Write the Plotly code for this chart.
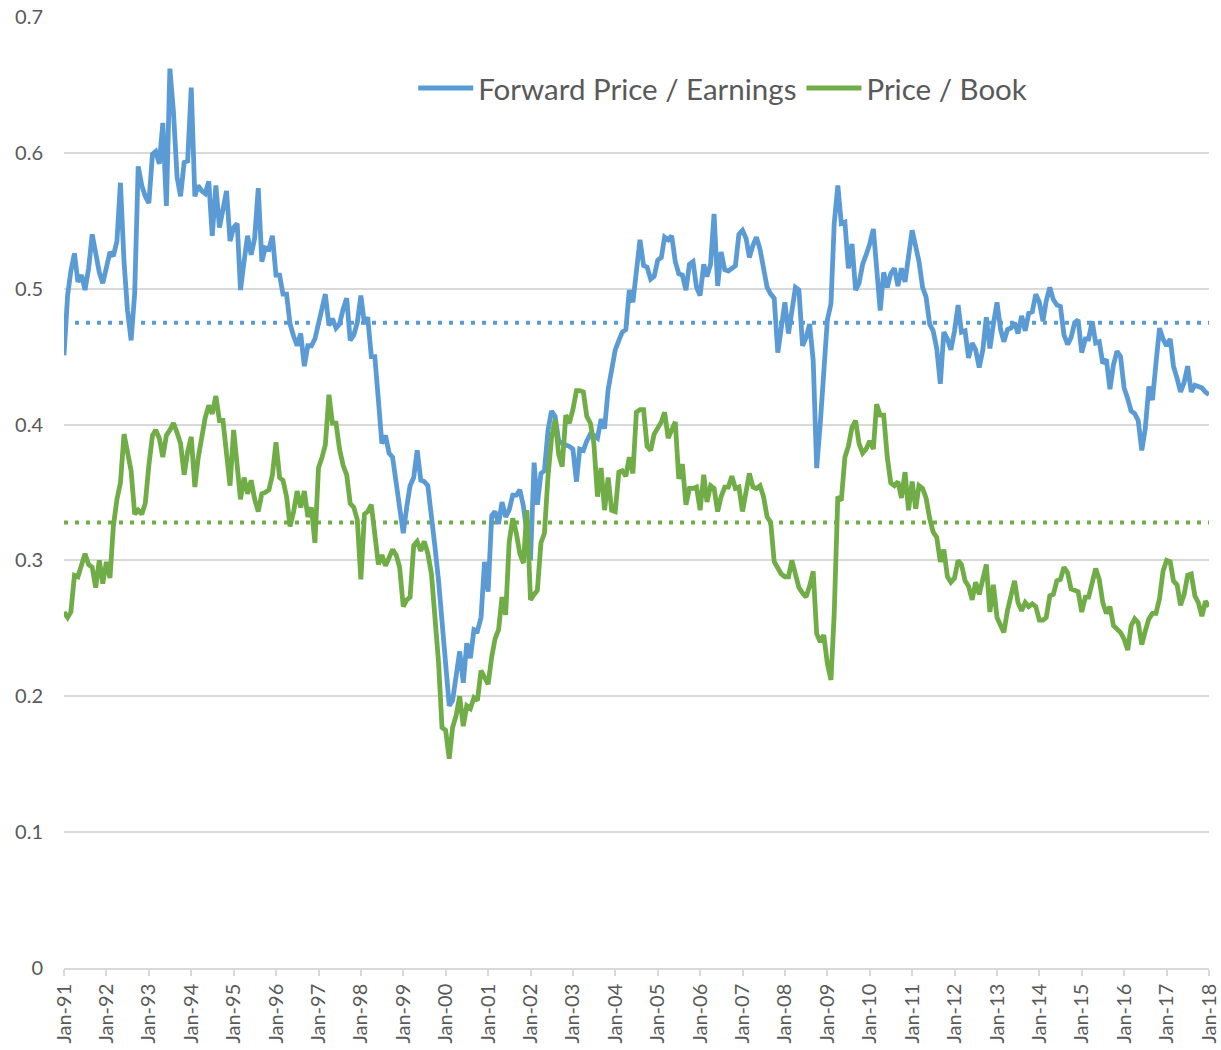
import pandas as pd
import plotly.graph_objects as go

# Monthly observations, Jan-1991 .. Jan-2018
start_month = "1991-01-01"
end_month = "2018-01-01"

forward_pe = [
    # 1991
    0.451, 0.495, 0.513, 0.526, 0.505, 0.510, 0.499, 0.515, 0.540, 0.525, 0.512, 0.504,
    # 1992
    0.517, 0.527, 0.524, 0.535, 0.578, 0.520, 0.484, 0.462, 0.497, 0.590, 0.576, 0.568,
    # 1993
    0.563, 0.599, 0.601, 0.592, 0.622, 0.561, 0.662, 0.630, 0.582, 0.568, 0.593, 0.594,
    # 1994
    0.648, 0.568, 0.576, 0.572, 0.570, 0.579, 0.539, 0.576, 0.545, 0.560, 0.572, 0.535,
    # 1995
    0.545, 0.548, 0.499, 0.520, 0.539, 0.525, 0.537, 0.574, 0.520, 0.530, 0.529, 0.539,
    # 1996
    0.510, 0.510, 0.496, 0.496, 0.474, 0.465, 0.458, 0.467, 0.443, 0.458, 0.458, 0.463,
    # 1997
    0.475, 0.488, 0.496, 0.473, 0.478, 0.471, 0.474, 0.485, 0.493, 0.462, 0.466, 0.475,
    # 1998
    0.495, 0.474, 0.479, 0.450, 0.450, 0.418, 0.386, 0.392, 0.379, 0.376, 0.355, 0.340,
    # 1999
    0.320, 0.340, 0.355, 0.361, 0.381, 0.359, 0.358, 0.355, 0.335, 0.310, 0.285, 0.255,
    # 2000
    0.229, 0.193, 0.197, 0.215, 0.233, 0.210, 0.239, 0.228, 0.249, 0.248, 0.258, 0.299,
    # 2001
    0.277, 0.333, 0.336, 0.327, 0.343, 0.332, 0.337, 0.348, 0.348, 0.352, 0.340, 0.320,
    # 2002
    0.300, 0.372, 0.341, 0.364, 0.366, 0.396, 0.410, 0.406, 0.388, 0.386, 0.385, 0.384,
    # 2003
    0.382, 0.358, 0.382, 0.381, 0.388, 0.393, 0.392, 0.390, 0.404, 0.397, 0.426, 0.442,
    # 2004
    0.455, 0.462, 0.468, 0.470, 0.499, 0.490, 0.513, 0.536, 0.517, 0.516, 0.507, 0.509,
    # 2005
    0.521, 0.523, 0.538, 0.536, 0.539, 0.520, 0.511, 0.510, 0.499, 0.518, 0.520, 0.501,
    # 2006
    0.495, 0.518, 0.509, 0.518, 0.555, 0.502, 0.527, 0.514, 0.513, 0.515, 0.517, 0.540,
    # 2007
    0.543, 0.537, 0.523, 0.532, 0.538, 0.529, 0.516, 0.501, 0.496, 0.493, 0.453, 0.469,
    # 2008
    0.490, 0.467, 0.484, 0.501, 0.499, 0.458, 0.464, 0.474, 0.447, 0.368, 0.401, 0.437,
    # 2009
    0.477, 0.489, 0.548, 0.576, 0.548, 0.549, 0.515, 0.533, 0.499, 0.504, 0.518, 0.525,
    # 2010
    0.533, 0.544, 0.511, 0.484, 0.512, 0.501, 0.511, 0.515, 0.502, 0.515, 0.505, 0.525,
    # 2011
    0.543, 0.531, 0.520, 0.501, 0.494, 0.474, 0.469, 0.456, 0.430, 0.468, 0.463, 0.455,
    # 2012
    0.469, 0.488, 0.468, 0.469, 0.449, 0.460, 0.455, 0.442, 0.455, 0.479, 0.456, 0.474,
    # 2013
    0.490, 0.470, 0.461, 0.470, 0.471, 0.475, 0.467, 0.480, 0.469, 0.482, 0.483, 0.496,
    # 2014
    0.490, 0.476, 0.491, 0.501, 0.492, 0.488, 0.487, 0.466, 0.459, 0.464, 0.475, 0.477,
    # 2015
    0.453, 0.463, 0.463, 0.476, 0.460, 0.461, 0.445, 0.448, 0.426, 0.444, 0.454, 0.450,
    # 2016
    0.427, 0.419, 0.410, 0.408, 0.403, 0.381, 0.397, 0.428, 0.418, 0.445, 0.471, 0.463,
    # 2017
    0.458, 0.463, 0.443, 0.434, 0.424, 0.431, 0.443, 0.424, 0.429, 0.428, 0.427, 0.424,
    # 2018
    0.422,
]

price_book = [
    # 1991
    0.262, 0.258, 0.262, 0.289, 0.288, 0.298, 0.305, 0.297, 0.295, 0.280, 0.300, 0.283,
    # 1992
    0.299, 0.287, 0.325, 0.345, 0.357, 0.393, 0.378, 0.366, 0.334, 0.337, 0.334, 0.342,
    # 1993
    0.370, 0.392, 0.396, 0.390, 0.376, 0.392, 0.396, 0.401, 0.394, 0.386, 0.363, 0.380,
    # 1994
    0.391, 0.354, 0.375, 0.393, 0.405, 0.414, 0.408, 0.421, 0.403, 0.403, 0.380, 0.355,
    # 1995
    0.396, 0.370, 0.345, 0.361, 0.349, 0.359, 0.345, 0.336, 0.349, 0.350, 0.352, 0.363,
    # 1996
    0.387, 0.361, 0.359, 0.347, 0.325, 0.336, 0.351, 0.339, 0.351, 0.332, 0.339, 0.313,
    # 1997
    0.368, 0.376, 0.385, 0.422, 0.401, 0.401, 0.382, 0.370, 0.363, 0.342, 0.339, 0.330,
    # 1998
    0.286, 0.334, 0.336, 0.341, 0.318, 0.297, 0.304, 0.296, 0.302, 0.308, 0.304, 0.295,
    # 1999
    0.266, 0.271, 0.273, 0.311, 0.314, 0.307, 0.314, 0.305, 0.290, 0.262, 0.225, 0.177,
    # 2000
    0.175, 0.154, 0.177, 0.186, 0.200, 0.178, 0.193, 0.191, 0.199, 0.197, 0.219, 0.214,
    # 2001
    0.209, 0.229, 0.242, 0.249, 0.273, 0.260, 0.313, 0.331, 0.320, 0.305, 0.298, 0.337,
    # 2002
    0.271, 0.275, 0.278, 0.313, 0.320, 0.362, 0.390, 0.404, 0.378, 0.369, 0.407, 0.401,
    # 2003
    0.411, 0.425, 0.425, 0.424, 0.406, 0.401, 0.386, 0.347, 0.368, 0.337, 0.361, 0.337,
    # 2004
    0.336, 0.365, 0.366, 0.362, 0.376, 0.364, 0.409, 0.411, 0.411, 0.384, 0.381, 0.393,
    # 2005
    0.397, 0.402, 0.409, 0.390, 0.396, 0.402, 0.360, 0.371, 0.341, 0.353, 0.353, 0.354,
    # 2006
    0.337, 0.363, 0.343, 0.355, 0.353, 0.336, 0.347, 0.354, 0.354, 0.362, 0.353, 0.354,
    # 2007
    0.336, 0.350, 0.364, 0.354, 0.353, 0.355, 0.347, 0.332, 0.328, 0.299, 0.295, 0.290,
    # 2008
    0.288, 0.288, 0.300, 0.290, 0.280, 0.276, 0.273, 0.281, 0.292, 0.246, 0.240, 0.245,
    # 2009
    0.224, 0.212, 0.261, 0.347, 0.344, 0.376, 0.384, 0.398, 0.403, 0.386, 0.379, 0.382,
    # 2010
    0.388, 0.382, 0.415, 0.407, 0.407, 0.376, 0.357, 0.355, 0.358, 0.346, 0.365, 0.337,
    # 2011
    0.358, 0.338, 0.355, 0.353, 0.346, 0.331, 0.321, 0.317, 0.299, 0.308, 0.288, 0.284,
    # 2012
    0.287, 0.300, 0.297, 0.285, 0.281, 0.271, 0.284, 0.275, 0.286, 0.297, 0.262, 0.282,
    # 2013
    0.258, 0.253, 0.247, 0.263, 0.274, 0.285, 0.269, 0.263, 0.269, 0.266, 0.268, 0.266,
    # 2014
    0.256, 0.256, 0.258, 0.274, 0.275, 0.285, 0.286, 0.295, 0.291, 0.279, 0.278, 0.277,
    # 2015
    0.262, 0.273, 0.273, 0.283, 0.294, 0.286, 0.269, 0.261, 0.266, 0.252, 0.250, 0.247,
    # 2016
    0.242, 0.234, 0.252, 0.257, 0.254, 0.238, 0.248, 0.257, 0.261, 0.261, 0.272, 0.292,
    # 2017
    0.300, 0.299, 0.285, 0.282, 0.267, 0.275, 0.289, 0.290, 0.274, 0.269, 0.259, 0.270,
    # 2018
    0.266,
]

pe_average = 0.475
pb_average = 0.328

series_names = ["Forward Price / Earnings", "Price / Book"]
y_ticks = [0, 0.1, 0.2, 0.3, 0.4, 0.5, 0.6, 0.7]

dates = pd.date_range(start_month, end_month, freq="MS")

BLUE = "#5B9BD5"
GREEN = "#70AD47"
GRID = "#D9D9D9"
TEXT = "#595959"
FONT = "Lato"

fig = go.Figure()

fig.add_trace(go.Scatter(
    x=dates, y=[pe_average] * len(dates), mode="lines",
    line=dict(color=BLUE, width=4, dash="4px,7px"),
    showlegend=False, hoverinfo="skip",
))
fig.add_trace(go.Scatter(
    x=dates, y=[pb_average] * len(dates), mode="lines",
    line=dict(color=GREEN, width=4, dash="4px,7px"),
    showlegend=False, hoverinfo="skip",
))
fig.add_trace(go.Scatter(
    x=dates, y=forward_pe, mode="lines", name=series_names[0],
    line=dict(color=BLUE, width=4.8),
))
fig.add_trace(go.Scatter(
    x=dates, y=price_book, mode="lines", name=series_names[1],
    line=dict(color=GREEN, width=4.8),
))

fig.update_layout(
    width=1221, height=1050,
    margin=dict(l=64, r=12, t=17, b=82),
    paper_bgcolor="white", plot_bgcolor="white",
    font=dict(family=FONT, color=TEXT),
    legend=dict(
        orientation="h", x=0.305, y=0.925, xanchor="left", yanchor="middle",
        font=dict(size=29.5, color=TEXT, family=FONT),
        bgcolor="rgba(0,0,0,0)", itemwidth=55,
    ),
    xaxis=dict(
        type="date", range=[start_month, end_month],
        tick0=start_month, dtick="M12", tickformat="%b-%y",
        tickangle=-90, showgrid=False, automargin=False,
        showline=True, linecolor=GRID, linewidth=1.5,
        ticks="outside", ticklen=6, tickcolor=GRID, tickwidth=1.5,
        tickfont=dict(size=20, color=TEXT, family=FONT),
        zeroline=False,
    ),
    yaxis=dict(
        range=[0, 0.7], tickvals=y_ticks, automargin=False,
        ticktext=[f"{v:g}" for v in y_ticks],
        showgrid=True, gridcolor=GRID, gridwidth=1.5,
        zeroline=False, showline=False, ticks="",
        tickfont=dict(size=20, color=TEXT, family=FONT),
        ticklabelstandoff=20,
    ),
)

fig.write_html(
    "out.html",
    config={"displayModeBar": False},
    post_script="document.body.style.margin='0';document.body.style.overflow='hidden';",
)
